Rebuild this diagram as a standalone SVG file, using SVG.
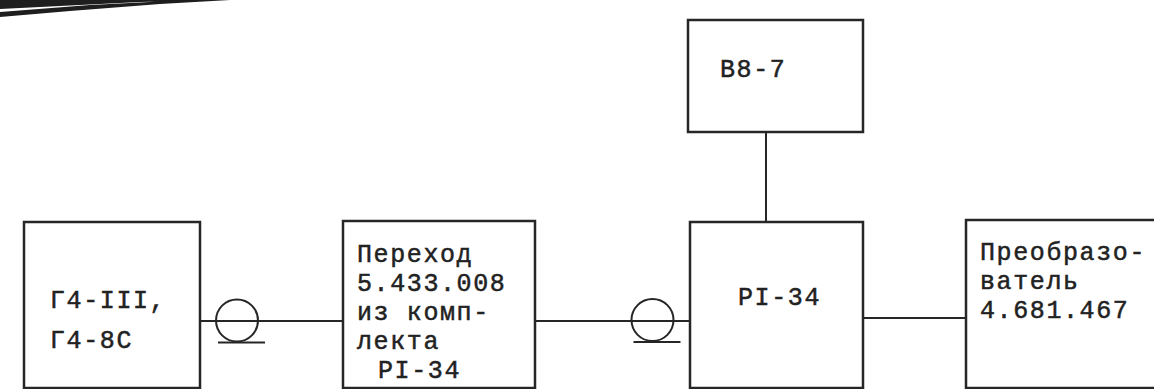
<svg xmlns="http://www.w3.org/2000/svg" width="1154" height="389" viewBox="0 0 1154 389">
  <style>
    .box { fill: #ffffff; stroke: #262626; stroke-width: 2.5; }
    .wire { fill: none; stroke: #262626; stroke-width: 2; }
    .lbl { font-family: "Liberation Mono", "DejaVu Sans Mono", monospace; font-size: 25px; letter-spacing: 1.6px; fill: #222222; stroke: #222222; stroke-width: 0.5px; }
  </style>
  <defs>
    <g id="coax">
      <circle cx="0" cy="0" r="21" class="wire"/>
      <line x1="-19" y1="22" x2="28" y2="22" class="wire"/>
    </g>
  </defs>
  <rect width="1154" height="389" fill="#ffffff"/>
  <path d="M0 9 L60 6 L140 2 L225 0 L0 0 Z M0 12 L0 17 L70 11 L160 4 L230 0 L190 0 L90 5 Z" fill="#1e1e1e"/>

  <g id="connectors">
    <line x1="200" y1="321" x2="343" y2="321" class="wire"/>
    <use href="#coax" x="237" y="320.5"/>
    <line x1="535" y1="321" x2="690" y2="321" class="wire"/>
    <use href="#coax" x="652.5" y="320"/>
    <line x1="863" y1="318" x2="966" y2="318" class="wire"/>
    <line x1="766" y1="132" x2="766" y2="222" class="wire"/>
  </g>

  <g id="node-g4">
    <rect x="24" y="222" width="176" height="166" class="box"/>
    <text class="lbl" x="50" y="308">Г4-III,</text>
    <text class="lbl" x="50" y="348">Г4-8С</text>
  </g>

  <g id="node-perehod">
    <rect x="343" y="221" width="192" height="167" class="box"/>
    <text class="lbl" x="357" y="262">Переход</text>
    <text class="lbl" x="357" y="291">5.433.008</text>
    <text class="lbl" x="357" y="320">из комп-</text>
    <text class="lbl" x="357" y="349">лекта</text>
    <text class="lbl" x="378" y="378">РI-34</text>
  </g>

  <g id="node-v8">
    <rect x="688" y="20" width="175" height="112" class="box"/>
    <text class="lbl" x="720" y="77">В8-7</text>
  </g>

  <g id="node-r1">
    <rect x="690" y="222" width="173" height="166" class="box"/>
    <text class="lbl" x="738" y="305">РI-34</text>
  </g>

  <g id="node-preobr">
    <rect x="966" y="220" width="200" height="168" class="box"/>
    <text class="lbl" x="980" y="260">Преобразо-</text>
    <text class="lbl" x="980" y="289">ватель</text>
    <text class="lbl" x="980" y="318">4.681.467</text>
  </g>
</svg>
